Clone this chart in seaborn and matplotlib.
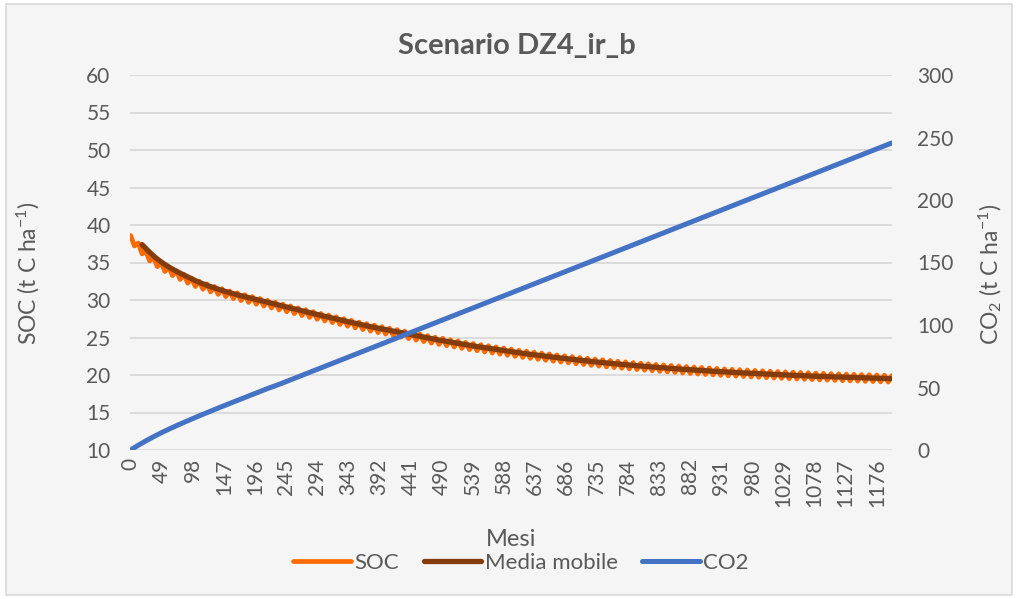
import numpy as np
import pandas as pd
import matplotlib
matplotlib.use("Agg")
import matplotlib.pyplot as plt
from matplotlib.patches import Rectangle
import seaborn as sns

# SOC (t C ha-1) letto dal grafico ogni 6 mesi:
# massimi (mesi 0, 12, 24, ...) e minimi (mesi 6, 18, 30, ...) alternati
soc = [
    38.6, 37.2, 37.6, 36.15, 36.5, 35.2, 35.7, 34.45, 35.0, 33.8,
    34.4, 33.25, 33.9, 32.75, 33.4, 32.25, 32.9, 31.8, 32.5, 31.43,
    32.15, 31.08, 31.8, 30.75, 31.5, 30.45, 31.2, 30.18, 30.95, 29.93,
    30.7, 29.68, 30.45, 29.43, 30.2, 29.18, 29.95, 28.93, 29.7, 28.68,
    29.45, 28.43, 29.2, 28.18, 28.95, 27.93, 28.7, 27.68, 28.45, 27.43,
    28.2, 27.2, 28.0, 26.98, 27.75, 26.73, 27.5, 26.5, 27.3, 26.28,
    27.05, 26.05, 26.85, 25.85, 26.65, 25.65, 26.45, 25.45, 26.25, 25.25,
    26.05, 25.05, 25.85, 24.85, 25.65, 24.65, 25.45, 24.45, 25.25, 24.25,
    25.05, 24.08, 24.9, 23.9, 24.7, 23.73, 24.55, 23.55, 24.35, 23.38,
    24.2, 23.23, 24.05, 23.08, 23.9, 22.93, 23.75, 22.78, 23.6, 22.63,
    23.45, 22.48, 23.3, 22.34, 23.18, 22.22, 23.05, 22.09, 22.92, 21.96,
    22.8, 21.84, 22.68, 21.72, 22.56, 21.61, 22.45, 21.5, 22.34, 21.39,
    22.23, 21.28, 22.13, 21.18, 22.03, 21.08, 21.93, 20.99, 21.84, 20.9,
    21.75, 20.81, 21.66, 20.72, 21.58, 20.64, 21.5, 20.56, 21.42, 20.48,
    21.34, 20.41, 21.27, 20.34, 21.2, 20.27, 21.13, 20.2, 21.06, 20.13,
    21.0, 20.07, 20.94, 20.01, 20.88, 19.95, 20.82, 19.89, 20.76, 19.84,
    20.71, 19.79, 20.66, 19.74, 20.61, 19.69, 20.56, 19.64, 20.51, 19.59,
    20.47, 19.55, 20.42, 19.5, 20.38, 19.46, 20.34, 19.42, 20.3, 19.38,
    20.26, 19.35, 20.23, 19.31, 20.19, 19.28, 20.16, 19.24, 20.12, 19.21,
    20.09, 19.18, 20.06, 19.15, 20.03, 19.12, 20.0, 19.09, 19.97, 19.06,
    19.94,
]

# CO2 cumulata (t C ha-1), un valore all'anno (mesi 0, 12, ..., 1200)
co2 = [
    0.0, 3.8, 7.3, 10.6, 13.7, 16.6, 19.4, 22.1, 24.7, 27.3,
    29.8, 32.3, 34.8, 37.2, 39.6, 42.0, 44.4, 46.8, 49.2, 51.4,
    53.7, 56.1, 58.5, 60.9, 63.3, 65.7, 68.1, 70.5, 72.9, 75.3,
    77.7, 80.1, 82.5, 84.9, 87.3, 89.7, 92.1, 94.5, 96.9, 99.3,
    101.7, 104.1, 106.5, 108.9, 111.3, 113.7, 116.1, 118.5, 120.9, 123.3,
    125.7, 128.1, 130.5, 132.9, 135.3, 137.7, 140.1, 142.5, 144.9, 147.3,
    149.7, 152.1, 154.5, 156.9, 159.3, 161.7, 164.1, 166.5, 168.9, 171.3,
    173.7, 176.1, 178.5, 180.9, 183.3, 185.7, 188.1, 190.5, 192.9, 195.3,
    197.7, 200.1, 202.5, 204.9, 207.3, 209.7, 212.1, 214.5, 216.9, 219.3,
    221.7, 224.1, 226.5, 228.9, 231.3, 233.7, 236.1, 238.5, 240.9, 243.3,
    245.7,
]

mesi_tick = list(range(0, 1177, 49))

ORANGE = "#FF6A00"
BROWN = "#843C0C"
BLUE = "#4472C4"
TEXT = "#595959"
GRID = "#D9D9D9"

df_soc = pd.DataFrame({"mese": np.arange(0, 1201, 6), "soc": soc})
# media mobile su 24 mesi (4 campioni semestrali)
df_soc["media"] = df_soc["soc"].rolling(4).mean()
df_co2 = pd.DataFrame({"mese": np.arange(0, 1201, 12), "co2": co2})

sns.set_theme(style="white")
plt.rcParams["font.family"] = ["Lato", "DejaVu Sans"]
plt.rcParams["mathtext.fontset"] = "custom"
plt.rcParams["mathtext.rm"] = "Lato"
plt.rcParams["mathtext.it"] = "Lato"

W, H = 1018, 599
fig = plt.figure(figsize=(W / 100, H / 100), dpi=100, facecolor="white")
fig.patches.append(Rectangle((6 / W, 4 / H), 1 - 12 / W, 1 - 8 / H, transform=fig.transFigure,
                             facecolor="#F5F5F5", edgecolor=GRID, lw=1.2, zorder=-10))

ax = fig.add_axes([130 / W, 1 - 450 / H, 762 / W, 375 / H])
ax.patch.set_visible(False)
ax2 = ax.twinx()
ax2.patch.set_visible(False)

sns.lineplot(data=df_soc, x="mese", y="soc", ax=ax, color=ORANGE, lw=3.4,
             solid_joinstyle="round", solid_capstyle="round", label="SOC", legend=False)
sns.lineplot(data=df_soc, x="mese", y="media", ax=ax, color=BROWN, lw=3.8,
             solid_capstyle="round", label="Media mobile", legend=False)
sns.lineplot(data=df_co2, x="mese", y="co2", ax=ax2, color=BLUE, lw=3.6,
             solid_capstyle="round", label="CO2", legend=False)

ax.set_xlim(-1, 1200)
ax.set_ylim(10, 60)
ax.set_yticks(range(10, 61, 5))
ax2.set_ylim(0, 300)
ax2.set_yticks(range(0, 301, 50))
ax.set_xticks(mesi_tick)
ax.set_xticklabels([str(m) for m in mesi_tick], rotation=90)

ax.grid(axis="y", color=GRID, lw=1.3)
ax.grid(axis="x", visible=False)
ax2.grid(False)
for a in (ax, ax2):
    for s in a.spines.values():
        s.set_visible(False)
    a.tick_params(length=0, colors=TEXT, labelsize=15)
    a.set_xlabel("")
    a.set_ylabel("")
ax.tick_params(axis="y", pad=14)
ax2.tick_params(axis="y", pad=18)
ax.tick_params(axis="x", pad=6)

fig.text(517 / W, 1 - 46 / H, "Scenario DZ4_ir_b", ha="center", va="center",
         fontsize=21, fontweight="bold", color=TEXT)
fig.text(511 / W, 1 - 540 / H, "Mesi", ha="center", va="center", fontsize=17, color=TEXT)
fig.text(28 / W, 1 - 273 / H, r"SOC (t C ha$^{\mathregular{-1}}$)", ha="center", va="center",
         rotation=90, fontsize=16.5, color=TEXT)
fig.text(990 / W, 1 - 274 / H, r"CO$_{\mathregular{2}}$ (t C ha$^{\mathregular{-1}}$)", ha="center",
         va="center", rotation=90, fontsize=16.5, color=TEXT)

h1, l1 = ax.get_legend_handles_labels()
h2, l2 = ax2.get_legend_handles_labels()
leg = fig.legend(h1 + h2, l1 + l2, loc="center", bbox_to_anchor=(521 / W, 1 - 563 / H), ncol=3,
                 frameon=False, fontsize=16, handlelength=2.6, handletextpad=0.15,
                 columnspacing=1.1, labelcolor=TEXT)

fig.savefig("out.png", dpi=100, facecolor=fig.get_facecolor())
